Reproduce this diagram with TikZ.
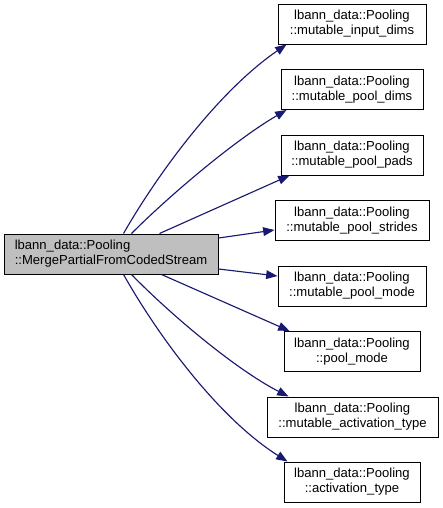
\documentclass[tikz,border=0pt]{standalone}
\usepackage{fontspec}
\setmainfont{Liberation Sans}
\usetikzlibrary{arrows.meta,calc}
\definecolor{edgeblue}{HTML}{191970}
\definecolor{maingray}{HTML}{BFBFBF}
\begin{document}
\begin{tikzpicture}[x=0.75pt,y=-0.75pt,
  box/.style={draw=black,line width=0.75pt,fill=white,minimum height=30pt,
    inner xsep=3pt,inner ysep=2pt,align=center,
    font=\fontsize{9.8}{11.2}\selectfont},
  mainbox/.style={box,fill=maingray,align=left},
  edge/.style={draw=edgeblue,line width=0.85pt,-{Triangle[length=8.5pt,width=6.5pt]}}]
\useasboundingbox (0,0) rectangle (443,508);
\node[mainbox,minimum width=160.5pt] (main) at (111,254) {lbann\_data::Pooling\\::MergePartialFromCodedStream};
\node[box,minimum width=111pt] (b1) at (352,24) {lbann\_data::Pooling\\::mutable\_input\_dims};
\node[box,minimum width=106.5pt] (b2) at (352,89.5) {lbann\_data::Pooling\\::mutable\_pool\_dims};
\node[box,minimum width=106.5pt] (b3) at (352,155) {lbann\_data::Pooling\\::mutable\_pool\_pads};
\node[box,minimum width=115.5pt] (b4) at (352,220.5) {lbann\_data::Pooling\\::mutable\_pool\_strides};
\node[box,minimum width=111pt] (b5) at (352,286) {lbann\_data::Pooling\\::mutable\_pool\_mode};
\node[box,minimum width=102pt] (b6) at (352,351.5) {lbann\_data::Pooling\\::pool\_mode};
\node[box,minimum width=128.25pt] (b7) at (352.5,417) {lbann\_data::Pooling\\::mutable\_activation\_type};
\node[box,minimum width=102pt] (b8) at (352,482) {lbann\_data::Pooling\\::activation\_type};
\draw[edge] ($(main.north west)+(120,0)$) .. controls (160,170) and (220,90) .. ($(b1.south west)+(9,0)$);
\draw[edge] ($(main.north west)+(128,0)$) .. controls (170,195) and (235,140) .. ($(b2.south west)+(6,0)$);
\draw[edge] ($(main.north west)+(156,0)$) -- ($(b3.south west)+(9,0)$);
\draw[edge] ($(main.east)+(0,-16)$) -- ($(b4.west)+(0,9.5)$);
\draw[edge] ($(main.east)+(0,15)$) -- ($(b5.west)+(0,-10)$);
\draw[edge] ($(main.south west)+(158,0)$) -- ($(b6.north west)+(6,0)$);
\draw[edge] ($(main.south west)+(128,0)$) .. controls (170,314) and (235,369) .. ($(b7.north west)+(22,0)$);
\draw[edge] ($(main.south west)+(120,0)$) .. controls (160,339) and (220,419) .. ($(b8.north west)+(4,0)$);
\end{tikzpicture}
\end{document}
